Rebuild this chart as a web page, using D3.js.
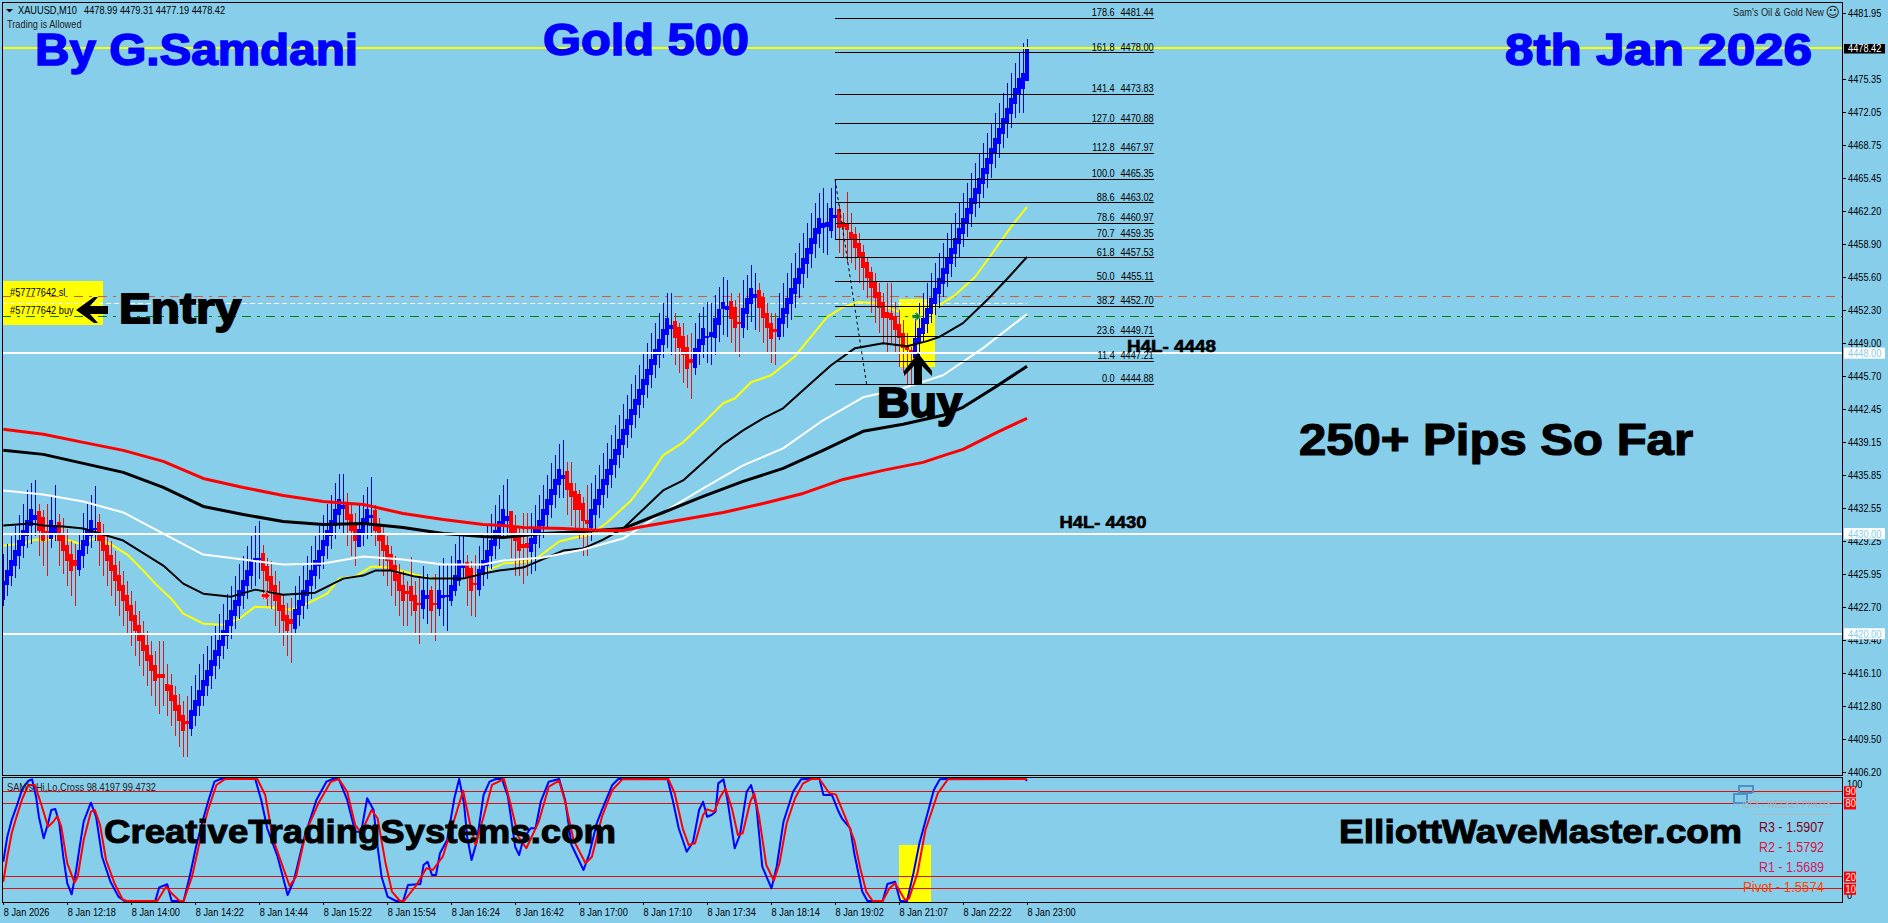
<!DOCTYPE html>
<html>
<head>
<meta charset="utf-8">
<title>XAUUSD M10</title>
<script src="https://cdnjs.cloudflare.com/ajax/libs/d3/7.9.0/d3.min.js"></script>
<style>
  html, body { margin: 0; padding: 0; background: #87ceeb; overflow: hidden; }
  svg { display: block; }
  .small { font-family: "Liberation Sans", Arial, sans-serif; font-size: 11.4px; fill: #000; }
  .big { font-family: "Liberation Sans", Arial, sans-serif; font-weight: bold; }
</style>
</head>
<body>
<div id="chart"></div>
<script>
"use strict";

var barOpen = [
  4423.4,4424.9,4425.8,4426.8,4427.8,4428.8,4429.8,4430.8,4431.4,4432.2,
  4431.6,4430.3,4429.5,4430.1,4431.2,4429.9,4428.9,4428.0,4427.4,4426.4,
  4427.8,4428.8,4429.8,4430.4,4431.2,4429.9,4428.9,4427.9,4426.9,4425.9,
  4424.9,4423.9,4422.9,4421.9,4420.9,4419.9,4418.9,4417.9,4416.9,4416.0,
  4416.0,4415.0,4414.9,4413.9,4412.9,4411.9,4411.3,4410.5,4411.8,4412.8,
  4413.8,4414.8,4415.8,4416.8,4417.8,4418.8,4419.8,4420.8,4421.8,4422.8,
  4423.8,4424.8,4425.8,4427.3,4427.4,4428.1,4426.8,4425.8,4424.9,4423.9,
  4422.9,4421.9,4421.5,4420.5,4421.9,4422.8,4423.8,4424.8,4425.8,4426.8,
  4427.8,4428.8,4429.8,4430.8,4431.8,4432.4,4433.1,4431.9,4430.9,4428.7,
  4429.9,4430.9,4431.5,4432.3,4430.8,4429.9,4428.9,4428.0,4426.9,4426.0,
  4424.9,4424.3,4424.8,4423.9,4423.1,4422.5,4423.5,4424.4,4423.1,4422.5,
  4423.6,4423.8,4423.3,4424.3,4425.3,4426.6,4427.2,4426.6,4425.1,4424.4,
  4425.9,4426.8,4427.8,4428.8,4429.8,4430.8,4431.3,4432.2,4430.7,4429.9,
  4429.0,4429.1,4428.2,4429.0,4429.9,4430.8,4431.8,4432.8,4433.8,4434.8,
  4435.4,4436.2,4435.0,4434.2,4433.9,4433.0,4431.4,4430.6,4431.8,4432.8,
  4433.8,4434.8,4435.8,4436.8,4437.8,4438.8,4439.8,4440.8,4441.8,4442.8,
  4443.8,4444.8,4445.8,4446.8,4447.8,4448.8,4449.8,4450.4,4451.2,4450.6,
  4449.7,4448.6,4447.4,4446.5,4447.9,4448.8,4449.5,4449.6,4449.5,4450.8,
  4452.4,4452.3,4453.2,4452.6,4451.1,4450.5,4451.9,4452.9,4453.5,4454.3,
  4453.6,4452.0,4451.0,4450.4,4449.6,4450.9,4451.9,4452.9,4453.9,4454.9,
  4455.9,4456.9,4457.9,4458.9,4459.9,4460.5,4460.6,4460.2,4461.5,4462.4,
  4461.1,4461.0,4460.1,4459.9,4459.0,4458.1,4457.1,4456.1,4455.1,4454.1,
  4453.1,4452.1,4452.0,4451.7,4450.9,4450.0,4448.6,4448.3,4447.5,4449.0,
  4449.9,4450.9,4451.9,4452.9,4453.9,4454.9,4455.9,4456.9,4457.9,4458.9,
  4459.9,4460.9,4461.9,4462.9,4463.9,4464.9,4465.9,4466.9,4467.9,4468.9,
  4469.9,4470.9,4471.9,4472.9,4473.9,4474.4,4475.2
];

var barClose = [
  4425.3,4426.4,4427.4,4428.4,4429.4,4430.4,4431.4,4432.4,4431.8,4430.3,
  4429.3,4430.1,4431.4,4430.8,4429.3,4428.3,4427.3,4426.3,4426.8,4428.4,
  4429.4,4430.4,4431.4,4430.6,4429.3,4428.3,4427.3,4426.3,4425.3,4424.3,
  4423.3,4422.3,4421.3,4420.3,4419.3,4418.3,4417.3,4416.3,4415.3,4415.6,
  4415.6,4414.3,4413.3,4412.3,4411.3,4410.3,4411.0,4412.4,4413.4,4414.4,
  4415.4,4416.4,4417.4,4418.4,4419.4,4420.4,4421.4,4422.4,4423.4,4424.4,
  4425.4,4426.4,4427.4,4427.6,4427.6,4426.3,4425.3,4424.3,4423.3,4422.3,
  4421.3,4420.3,4421.0,4422.5,4423.4,4424.4,4425.4,4426.4,4427.4,4428.4,
  4429.4,4430.4,4431.4,4432.4,4433.4,4432.8,4431.4,4430.3,4429.3,4430.5,
  4431.5,4432.4,4431.8,4430.3,4429.3,4428.3,4427.3,4426.3,4425.3,4424.3,
  4423.3,4424.0,4423.3,4422.3,4422.9,4424.4,4423.9,4422.3,4422.9,4424.4,
  4423.9,4423.9,4424.9,4425.9,4427.4,4427.0,4425.6,4424.3,4425.0,4426.5,
  4427.4,4428.4,4429.4,4430.4,4431.3,4432.4,4431.7,4430.1,4429.3,4428.3,
  4428.6,4428.6,4429.6,4430.5,4431.4,4432.4,4433.4,4434.4,4435.4,4436.4,
  4435.8,4434.3,4433.6,4432.3,4432.3,4431.3,4431.0,4432.4,4433.4,4434.4,
  4435.4,4436.4,4437.4,4438.4,4439.4,4440.4,4441.4,4442.4,4443.4,4444.4,
  4445.4,4446.4,4447.4,4448.4,4449.4,4450.4,4451.5,4450.8,4449.5,4448.5,
  4447.8,4446.4,4447.0,4448.5,4449.4,4450.5,4449.7,4450.1,4451.5,4452.4,
  4453.1,4452.7,4451.4,4450.5,4451.0,4452.5,4453.5,4454.5,4453.9,4452.5,
  4451.5,4450.5,4449.4,4450.1,4451.5,4452.5,4453.5,4454.5,4455.5,4456.5,
  4457.5,4458.5,4459.5,4460.5,4461.5,4461.0,4461.1,4462.5,4461.8,4460.5,
  4460.6,4460.3,4459.4,4458.5,4457.5,4456.5,4455.5,4454.5,4453.5,4452.5,
  4451.5,4451.5,4451.3,4450.3,4449.5,4448.5,4448.3,4448.0,4449.5,4450.5,
  4451.5,4452.5,4453.5,4454.5,4455.5,4456.5,4457.5,4458.5,4459.5,4460.5,
  4461.5,4462.5,4463.5,4464.5,4465.5,4466.5,4467.5,4468.5,4469.5,4470.5,
  4471.5,4472.5,4473.5,4474.5,4475.5,4476.0,4478.42
];

var barHigh = [
  4428.0,4429.0,4429.8,4430.8,4431.8,4432.9,4434.3,4435.0,4435.3,4432.9,
  4432.3,4432.9,4433.8,4434.8,4431.9,4431.5,4430.5,4429.3,4429.0,4430.0,
  4432.0,4432.9,4433.8,4434.7,4431.9,4431.0,4429.8,4429.3,4428.3,4427.3,
  4426.3,4425.3,4424.3,4423.3,4422.3,4421.3,4420.3,4419.3,4418.3,4419.3,
  4419.3,4417.0,4416.0,4414.8,4414.0,4413.3,4413.8,4414.8,4415.9,4417.0,
  4418.0,4418.8,4419.8,4420.8,4422.0,4423.0,4424.0,4424.8,4425.8,4427.0,
  4427.8,4428.8,4429.8,4430.8,4431.3,4428.9,4427.6,4427.3,4426.3,4425.3,
  4424.0,4423.1,4423.6,4424.8,4425.8,4426.8,4427.8,4428.8,4429.8,4430.8,
  4431.8,4432.9,4433.8,4435.0,4435.9,4435.9,4434.0,4433.0,4432.0,4432.8,
  4433.8,4434.6,4435.6,4432.8,4431.5,4430.8,4429.8,4428.8,4427.8,4427.0,
  4426.3,4425.3,4427.7,4425.3,4425.8,4426.8,4426.0,4424.8,4426.0,4426.8,
  4427.6,4427.0,4427.8,4429.0,4430.1,4430.1,4427.9,4427.3,4427.9,4428.8,
  4429.8,4430.8,4431.9,4432.8,4433.8,4434.8,4435.4,4432.0,4431.8,4430.6,
  4432.0,4432.0,4432.0,4432.8,4433.8,4434.8,4435.8,4437.0,4437.8,4438.9,
  4439.3,4437.1,4437.1,4435.0,4434.3,4433.6,4434.8,4435.0,4435.8,4436.8,
  4438.0,4439.0,4439.8,4440.8,4441.8,4442.9,4443.8,4444.9,4445.8,4446.8,
  4447.9,4449.0,4450.0,4451.0,4452.0,4453.0,4454.0,4454.0,4452.0,4451.0,
  4451.0,4449.8,4450.0,4451.0,4452.0,4452.6,4453.1,4453.0,4453.8,4454.6,
  4455.6,4455.3,4454.0,4453.3,4454.0,4455.3,4455.8,4456.8,4456.0,4455.0,
  4454.0,4453.0,4452.0,4452.0,4454.0,4455.0,4456.0,4457.0,4458.0,4459.0,
  4460.0,4461.0,4462.0,4463.0,4464.0,4464.5,4463.0,4464.5,4465.3,4462.8,
  4462.0,4464.1,4462.0,4460.6,4460.0,4458.8,4457.6,4456.6,4456.0,4455.0,
  4454.0,4455.0,4455.0,4453.1,4452.3,4451.3,4450.0,4448.6,4452.0,4453.0,
  4454.0,4455.0,4456.0,4457.0,4458.0,4459.0,4460.0,4461.0,4462.0,4463.0,
  4464.0,4465.0,4466.0,4467.0,4468.0,4469.0,4470.0,4471.0,4472.0,4473.0,
  4474.0,4475.0,4476.0,4477.0,4478.0,4479.0,4479.4
];

var barLow = [
  4422.8,4423.8,4424.8,4425.6,4426.5,4427.6,4428.6,4429.0,4429.8,4427.8,
  4426.8,4425.8,4428.6,4429.3,4426.8,4426.0,4424.8,4423.8,4422.8,4425.8,
  4426.6,4428.0,4428.6,4429.3,4426.8,4425.8,4424.8,4423.8,4422.8,4421.8,
  4420.8,4420.0,4418.8,4417.8,4416.8,4415.8,4414.8,4413.8,4412.8,4412.0,
  4412.8,4411.8,4410.8,4409.8,4408.7,4407.7,4407.7,4409.8,4410.8,4411.8,
  4412.8,4413.8,4414.5,4415.5,4416.5,4417.5,4418.5,4419.5,4420.5,4421.5,
  4422.5,4423.5,4424.5,4424.8,4425.5,4423.5,4422.8,4422.5,4420.8,4420.0,
  4418.8,4417.8,4417.1,4420.1,4420.8,4421.5,4422.5,4423.5,4424.5,4425.5,
  4426.5,4427.5,4428.5,4429.5,4430.5,4430.0,4428.8,4427.8,4426.8,4428.8,
  4428.8,4429.5,4429.8,4428.8,4426.8,4425.8,4424.8,4423.8,4422.8,4421.8,
  4420.8,4420.8,4421.8,4420.0,4419.0,4421.5,4421.0,4420.0,4419.3,4421.8,
  4420.8,4420.3,4422.8,4423.8,4424.8,4425.5,4422.8,4421.8,4421.7,4423.8,
  4424.8,4425.5,4426.5,4427.5,4428.5,4429.5,4429.6,4427.6,4425.8,4425.8,
  4425.0,4425.8,4426.0,4426.3,4428.6,4429.6,4430.5,4431.5,4432.5,4433.5,
  4433.5,4431.8,4430.8,4430.5,4429.5,4427.8,4427.8,4429.3,4430.3,4431.5,
  4432.5,4433.5,4434.5,4435.5,4436.5,4437.5,4438.5,4439.5,4440.5,4441.5,
  4442.5,4443.5,4444.5,4445.5,4446.5,4447.5,4448.5,4447.8,4446.8,4446.0,
  4445.0,4444.5,4443.4,4445.8,4446.8,4447.5,4447.0,4446.8,4447.8,4449.1,
  4449.8,4449.6,4449.0,4448.0,4447.6,4449.5,4450.3,4451.1,4450.3,4450.1,
  4449.0,4448.0,4447.0,4446.8,4449.3,4449.6,4450.5,4451.3,4452.5,4453.5,
  4454.5,4455.5,4456.5,4457.5,4458.5,4458.0,4457.8,4459.5,4459.3,4458.0,
  4457.6,4457.0,4457.0,4456.3,4455.0,4454.3,4453.5,4452.0,4451.0,4450.0,
  4449.0,4448.1,4449.0,4448.0,4446.6,4446.0,4444.8,4444.6,4447.1,4447.6,
  4449.0,4450.0,4451.0,4451.8,4452.5,4453.6,4454.6,4455.6,4456.6,4457.6,
  4458.6,4459.6,4460.6,4461.6,4462.5,4463.5,4464.5,4465.5,4466.5,4467.5,
  4468.5,4469.5,4470.5,4471.5,4472.0,4472.0,4475.2
];

// moving averages, as bar index + price
var maRedBars = [0,10,20,30,40,50,60,70,80,90,100,110,120,125,130,140,150,155,160,170,180,190,200,210,220,230,236,240,249,256];
var maRedVals = [4440.4,4439.9,4439.1,4438.3,4437.2,4435.5,4434.6,4433.8,4433.2,4432.9,4432.0,4431.4,4430.9,4430.8,4430.6,4430.5,4430.3,4430.3,4430.7,4431.4,4432.1,4433.0,4434.0,4435.4,4436.3,4437.1,4437.9,4438.4,4440.2,4441.5];

var maBlackBars = [0,10,20,30,40,50,60,70,80,90,100,110,120,125,135,145,155,165,175,185,195,205,215,225,235,240,248,256];
var maBlackVals = [4438.3,4437.9,4437.0,4436.1,4434.6,4432.7,4431.9,4431.2,4430.9,4431.0,4430.6,4430.0,4429.7,4429.6,4430.0,4430.2,4430.5,4432.1,4433.7,4435.2,4436.5,4438.3,4440.2,4440.9,4441.8,4442.6,4444.6,4446.7];

var maWhiteBars = [0,10,20,30,40,50,60,70,80,90,100,110,120,125,135,145,155,165,175,185,195,205,215,225,235,245,256];
var maWhiteVals = [4434.3,4433.9,4433.2,4432.1,4430.0,4427.9,4427.4,4426.9,4427.0,4427.7,4427.4,4426.9,4426.9,4427.3,4427.6,4428.4,4429.5,4432.1,4434.5,4436.8,4438.5,4441.3,4443.6,4444.5,4445.8,4448.5,4451.9];

var maThinBars = [0,7,10,15,20,30,40,45,50,57,63,70,78,85,90,93,97,103,107,115,120,124,130,140,145,150,155,165,170,175,180,185,190,195,200,207,213,220,226,231,234,240,246,251,256];
var maThinVals = [4430.8,4431.0,4430.8,4430.7,4430.5,4429.3,4426.8,4425.0,4424.0,4423.7,4424.4,4423.9,4424.1,4425.5,4425.8,4426.3,4426.3,4425.7,4425.5,4425.5,4426.0,4426.3,4426.6,4428.3,4428.5,4429.4,4430.5,4434.3,4435.3,4437.1,4438.9,4440.3,4441.5,4442.5,4444.3,4446.8,4448.5,4449.0,4448.7,4449.2,4449.6,4451.0,4453.3,4455.4,4457.6];

var maYellowBars = [0,5,8,10,14,19,23,27,31,35,38,42,45,50,55,59,63,68,72,76,81,84,88,92,97,103,107,115,124,125,131,134,139,143,147,151,157,161,165,170,175,180,183,187,192,198,206,210,214,218,225,228,233,238,243,247,252,256];
var maYellowVals = [4428.8,4429.0,4429.4,4429.3,4429.6,4429.0,4429.5,4428.9,4427.9,4426.3,4425.0,4423.5,4422.0,4421.0,4420.9,4421.5,4422.7,4422.6,4422.4,4423.0,4424.0,4425.5,4425.7,4426.7,4426.6,4425.9,4425.5,4425.5,4426.8,4427.0,4427.2,4427.7,4429.2,4429.6,4429.9,4431.1,4433.3,4435.4,4437.8,4439.1,4441.0,4443.0,4443.5,4445.1,4445.8,4447.7,4451.6,4452.6,4453.1,4453.0,4452.0,4451.9,4452.5,4453.8,4455.6,4457.8,4460.6,4462.6];

// lower window, SAM's Hi,Lo,Cross
var oscBlueBars = [0,1,2.1,3.3,4.8,6.3,7.2,8.2,8.9,10.1,11.2,12,13,14,15,16,17.1,18.1,19.1,20.1,21.9,23.2,24.7,26.8,28.8,30.3,38,39,41,42.1,45.1,46.6,48.2,49.7,51.2,52.8,54.3,63,64.5,66,68.6,71.1,72.7,75.2,78.3,80.8,82.4,83.9,86,88,89.5,91,92.6,93.6,94.6,96.1,98.2,100,101.2,104.3,105.1,106.1,107.2,108.2,109.2,111,112.8,114,115.2,116,117.1,118.4,120.1,121.6,123.2,124.7,126.2,128,129,130.1,131.9,133.1,134.4,136.4,139,140.5,142.1,145.1,146.6,148.4,149.7,152.3,153.8,166.1,167.4,168.9,170.9,172.5,174,175,176,177.1,178.1,178.8,180.1,181.1,182.9,184.2,185.9,187,188.3,189.8,192.1,193.4,195.1,197.5,199.5,201,204.1,205.1,207.2,208.7,209.7,211.8,212.8,214.8,216.1,219.9,221.1,223,224.3,226,227.6,229.1,232.7,234.2,235.7,255.6,256];
var oscBlueVals = [32.2,52.7,66.4,77.3,92.3,98.6,99.7,85.5,69.1,51.4,63.7,74.6,75.4,63.7,36.3,14.5,5.5,22.7,44.5,65,80.6,69.1,36.3,15.8,3.6,0,0,11.2,13.7,0,0,19.9,44.5,63.7,81.4,97.8,100,100,82.8,59.6,36.3,4.9,17.2,51.4,82.8,97.8,100,100,82.8,56.8,56.8,84.2,74.6,44.5,19.9,3.6,0,0,13.1,13.9,29.5,32.2,21.3,21.3,39.1,50,84.2,100,80.1,52.7,33.6,48.6,86.9,97.8,100,100,85.5,44.5,37.7,51.4,59.6,59.6,81.4,97.8,100,82.8,45.9,25.4,39.1,63.7,74.6,95.1,100,100,82.8,59.6,40.4,48.6,74.6,81.4,69.1,70.5,73.2,96.4,99.7,82.8,43.2,54.1,89.6,95.1,78.7,28.1,10.4,28.1,65,89.6,99.7,100,100,86.9,86.9,74.6,67.8,59.6,39.1,7.7,0,0,13.9,15.8,0,0,22.7,47.3,91,99.7,100,100,98.42];

var oscRedBars = [0,1,2.1,3.3,4.8,6.3,7.9,9.4,11.2,12.5,13.5,14.5,16,17.8,18.6,20.1,21.9,22.9,24.2,25.7,27.8,29.8,30.8,38.5,40.7,42.1,44.1,45.1,47.2,49.2,51.2,53.3,55.3,56.3,63.5,65.5,67.4,69.6,71.6,73.2,75.7,78.8,81.9,83.9,86,88,89.5,92.1,93.6,95.6,97.2,99.2,100.2,103.3,105.8,107.4,109.9,112.5,115,116.6,118.1,120.1,122.2,125.2,126.8,128.8,130.8,133.9,136.4,139,140.5,142.6,145.6,147.2,149.7,152.3,154.8,166.3,167.9,169.9,171.4,173,175,176,177.8,179.1,180.6,182.2,183.7,184.9,186.8,187.8,189,190.8,192.7,194.1,195.9,198,200,202.1,204.1,206.6,208.2,211.2,212.8,214.3,215.8,217.4,219.9,221.6,223,225.5,226.5,228.6,230.6,233.7,236.2,255.6,256];
var oscRedVals = [15.8,36.3,55.5,69.1,84.2,95.1,95.1,80.1,60.9,65,69.7,60.9,30.9,15,19.9,50,73.2,74.6,62.3,33.6,14.5,1.4,0,0,11.7,6.3,0,0,19.9,50,74.6,95.1,99.7,100,100,86.9,51.4,30.9,12.3,19.9,56.8,80.1,97.8,100,89.6,62.3,56,74.6,67.8,30.9,7.7,0,0,13.1,26.8,25.4,36.3,63.7,90.4,65,45.9,69.1,95.1,100,80.1,52.7,43.2,65,93.7,98.6,81.4,50,30.9,36.3,69.1,91,99.7,100,88.3,59.6,45.9,47.3,70.5,75.1,73.2,84.2,92.3,76,54.1,55.5,81.4,88.3,69.1,29.5,16.7,30.9,63.7,84.2,96.4,100,100,88.3,87.4,63.7,50,26.8,7.7,0,0,10.4,14.5,0.8,2.2,22.7,58.2,88.3,99.7,100,99.47];

// retracement levels
var fibPercent = ["178.6","161.8","141.4","127.0","112.8","100.0","88.6","78.6","70.7","61.8","50.0","38.2","23.6","11.4","0.0"];
var fibPrice = [4481.44,4478.00,4473.83,4470.88,4467.97,4465.35,4463.02,4460.97,4459.35,4457.53,4455.11,4452.70,4449.71,4447.21,4444.88];

var priceTicks = [4481.95,4475.35,4472.05,4468.75,4465.45,4462.20,4458.90,4455.60,4452.30,4449.00,4445.70,4442.45,4439.15,4435.85,4432.55,4429.25,4425.95,4422.70,4419.40,4416.10,4412.80,4409.50,4406.20];
var timeTickBars = [0,16,32,48,64,80,96,112,128,144,160,176,192,208,224,240,256];
var timeLabels = ["8 Jan 2026","8 Jan 12:18","8 Jan 14:00","8 Jan 14:22","8 Jan 14:44","8 Jan 15:22","8 Jan 15:54","8 Jan 16:24","8 Jan 16:42","8 Jan 17:00","8 Jan 17:10","8 Jan 17:34","8 Jan 18:14","8 Jan 19:02","8 Jan 21:07","8 Jan 22:22","8 Jan 23:00"];

var supportLevels = [4448, 4430, 4420];
var oscLevels = [90, 80, 20, 10];
var bidPrice = 4478.42;
var slPrice = 4453.61;
var entryPrice = 4451.67;
var openDashPrice = 4452.96;

var width = 1888, height = 923;
var left = 2, right = 1842;
var mainTop = 2, mainBottom = 775, subTop = 777, subBottom = 902;

var x = d3.scaleLinear().domain([0, 256]).range([3.3, 1027]);
var y = d3.scaleLinear().domain([4481.95, 4406.20]).range([13, 772]);
var yOsc = d3.scaleLinear().domain([100, 0]).range([779, 901]);

var svg = d3.select("#chart").append("svg")
  .attr("width", width)
  .attr("height", height);

svg.append("rect")
  .attr("width", width)
  .attr("height", height)
  .attr("fill", "#87ceeb");

var defs = svg.append("defs");
defs.append("clipPath").attr("id", "mainClip").append("rect")
  .attr("x", left).attr("y", mainTop).attr("width", right - left).attr("height", mainBottom - mainTop);
defs.append("clipPath").attr("id", "subClip").append("rect")
  .attr("x", left).attr("y", subTop).attr("width", right - left).attr("height", subBottom - subTop);

var main = svg.append("g").attr("clip-path", "url(#mainClip)");
var sub = svg.append("g").attr("clip-path", "url(#subClip)");

var drawMa = function(group, bars, vals, scale, color, strokeWidth) {
  var line = d3.line()
    .x(function(d) { return x(d); })
    .y(function(d, i) { return scale(vals[i]); });
  group.append("path")
    .attr("d", line(bars))
    .attr("fill", "none")
    .attr("stroke", color)
    .attr("stroke-width", strokeWidth)
    .attr("stroke-linejoin", "round");
};

var hLine = function(group, x1, x2, yPos, color, strokeWidth, dash) {
  group.append("line")
    .attr("x1", x1).attr("x2", x2)
    .attr("y1", yPos).attr("y2", yPos)
    .attr("stroke", color)
    .attr("stroke-width", strokeWidth)
    .attr("stroke-dasharray", dash || null)
    .attr("shape-rendering", "crispEdges");
};

// the platform font is narrower than anything installed, so squeeze the glyphs
var squeeze = function(node) {
  var w = node.getComputedTextLength();
  d3.select(node)
    .attr("textLength", w * 0.81)
    .attr("lengthAdjust", "spacingAndGlyphs");
};

var smallText = function(group, xPos, yPos, str, color, anchor) {
  var t = group.append("text")
    .attr("class", "small")
    .attr("x", xPos)
    .attr("y", yPos)
    .attr("text-anchor", anchor || "start")
    .style("fill", color || "#000")
    .text(str);
  squeeze(t.node());
  return t;
};

var bigText = function(xPos, yPos, str, size, color, span, sw) {
  svg.append("text")
    .attr("class", "big")
    .attr("x", xPos)
    .attr("y", yPos)
    .attr("font-size", size)
    .attr("fill", color)
    .attr("stroke", color)
    .attr("stroke-width", sw)
    .attr("textLength", span)
    .attr("lengthAdjust", "spacingAndGlyphs")
    .text(str);
};

// yellow boxes behind the bars
main.append("rect").attr("x", left + 1).attr("y", 281).attr("width", 100).attr("height", 44).attr("fill", "#ffff00");
main.append("rect").attr("x", 899).attr("y", 299).attr("width", 36).attr("height", 68).attr("fill", "#ffff00");

// order lines
hLine(main, left, right, y(slPrice), "#d9582f", 1, "9 6 3 6");
hLine(main, left, right, y(entryPrice), "#008000", 1, "9 6 3 6");
hLine(main, left, x(256), y(openDashPrice), "#ffffff", 1, "5 3");

drawMa(main, maYellowBars, maYellowVals, y, "#ffff00", 2);

// bars
var idx = d3.range(barOpen.length);
var barColor = function(i) { return barClose[i] >= barOpen[i] ? "#0000ff" : "#ff0000"; };

main.selectAll(".wick").data(idx).enter().append("line")
  .attr("class", "wick")
  .attr("x1", function(i) { return Math.round(x(i)) + 0.5; })
  .attr("x2", function(i) { return Math.round(x(i)) + 0.5; })
  .attr("y1", function(i) { return y(barHigh[i]); })
  .attr("y2", function(i) { return y(barLow[i]); })
  .attr("stroke", function(i) { return barClose[i] >= barOpen[i] ? "#0000e6" : "#d81818"; })
  .attr("stroke-width", 1)
  .attr("shape-rendering", "crispEdges");

main.selectAll(".body").data(idx).enter().append("rect")
  .attr("class", "body")
  .attr("x", function(i) { return Math.round(x(i)) - 2; })
  .attr("width", 4)
  .attr("y", function(i) { return y(Math.max(barOpen[i], barClose[i])); })
  .attr("height", function(i) { return Math.max(2, Math.abs(y(barOpen[i]) - y(barClose[i]))); })
  .attr("fill", barColor)
  .attr("shape-rendering", "crispEdges");

drawMa(main, maThinBars, maThinVals, y, "#000000", 2);
drawMa(main, maWhiteBars, maWhiteVals, y, "#ffffff", 2);
drawMa(main, maBlackBars, maBlackVals, y, "#000000", 3);
drawMa(main, maRedBars, maRedVals, y, "#ff0000", 3);

// support lines and current price line
supportLevels.forEach(function(level) {
  hLine(main, left, right, y(level), "#ffffff", 2);
});
hLine(main, left, right, y(bidPrice), "#ffff00", 2);

// retracement fan
var fibX1 = x(208), fibX2 = x(287.7);
fibPrice.forEach(function(p, i) {
  hLine(main, fibX1, fibX2, y(p), "#000000", 1);
  smallText(main, fibX2 - 39, y(p) - 2, fibPercent[i], "#000", "end");
  smallText(main, fibX2, y(p) - 2, p.toFixed(2), "#000", "end");
});
main.append("line")
  .attr("x1", fibX1).attr("x2", x(215.9))
  .attr("y1", y(4465.35)).attr("y2", y(4444.88))
  .attr("stroke", "#000")
  .attr("stroke-width", 1)
  .attr("stroke-dasharray", "3 3");

// trade markers
main.append("path")
  .attr("transform", "translate(" + x(228.5) + "," + y(entryPrice) + ")")
  .attr("d", "M-5,-2H-1V-5L4,0L-1,5V2H-5Z")
  .attr("fill", "#0a8a0a")
  .attr("stroke", "#ffffff")
  .attr("stroke-width", 0.6);
main.append("path")
  .attr("transform", "translate(" + x(65.5) + "," + y(4423.8) + ")")
  .attr("d", "M-4,-2H0V-5L5,0L0,5V2H-4Z")
  .attr("fill", "#ff0000")
  .attr("stroke", "#ffffff")
  .attr("stroke-width", 0.6);

// header text
main.append("path").attr("d", "M6,9H13L9.5,12.5Z").attr("fill", "#000");
smallText(main, 18, 14, "XAUUSD,M10", "#000");
smallText(main, 84, 14, "4478.99 4479.31 4477.19 4478.42", "#000");
smallText(main, 7, 28, "Trading is Allowed", "#222");
smallText(main, 10, 296, "#57777642 sl", "#000");
smallText(main, 10, 314, "#57777642 buy", "#000");
smallText(main, 1824, 16, "Sam's Oil & Gold New", "#222", "end");
main.append("text")
  .attr("x", 1825.5).attr("y", 17)
  .attr("font-family", "DejaVu Sans")
  .attr("font-size", 14)
  .attr("fill", "#222")
  .text("\u263A");

// big notes
bigText(35, 65, "By G.Samdani", 45, "#0000ff", 323, 1.5);
bigText(543, 55, "Gold 500", 44, "#0000ff", 206, 1.5);
bigText(1505, 65, "8th Jan 2026", 45, "#0000ff", 307, 1.5);
bigText(119, 323, "Entry", 42, "#000000", 122, 1.8);
bigText(877, 417, "Buy", 42, "#000000", 85, 1.8);
bigText(1127, 352, "H4L- 4448", 16.5, "#000000", 89, 0.6);
bigText(1059.5, 527.5, "H4L- 4430", 16.5, "#000000", 87, 0.6);
bigText(1299, 455, "250+ Pips So Far", 44, "#000000", 394, 1.2);
bigText(104, 843, "CreativeTradingSystems.com", 33, "#000000", 512, 1);
bigText(1339, 843, "ElliottWaveMaster.com", 33, "#000000", 403, 1);

// hand drawn arrows
svg.append("path")
  .attr("d", "M76,310L94,297L98,297L90,306H108V314H90L98,323H94Z")
  .attr("fill", "#000");
svg.append("path")
  .attr("d", "M918,353L932,371V376L922,366V385H914V366L904,376V371Z")
  .attr("fill", "#000");

// lower window
sub.append("rect").attr("x", 899).attr("y", 845).attr("width", 32).attr("height", 57).attr("fill", "#ffff00");
oscLevels.forEach(function(level) {
  hLine(sub, left, right, yOsc(level), "#e01010", 1);
});
drawMa(sub, oscBlueBars, oscBlueVals, yOsc, "#0000ff", 2);
drawMa(sub, oscRedBars, oscRedVals, yOsc, "#ff0000", 2);
smallText(sub, 7, 791, "SAM's Hi,Lo,Cross 98.4197 99.4732", "#222");

// weekly pivot panel
sub.append("rect").attr("x", 1739).attr("y", 786).attr("width", 14).attr("height", 7)
  .attr("fill", "none").attr("stroke", "#4f8fc4").attr("stroke-width", 2);
sub.append("rect").attr("x", 1734).attr("y", 794).attr("width", 13).attr("height", 9)
  .attr("fill", "none").attr("stroke", "#4f8fc4").attr("stroke-width", 2);
hLine(sub, 1752, 1832, 793, "#b0b8bc", 1);
hLine(sub, 1752, 1832, 814, "#b0b8bc", 1);
sub.append("text")
  .attr("x", 1742).attr("y", 808)
  .attr("font-family", "Liberation Sans")
  .attr("font-size", 11)
  .attr("fill", "#a8b4ba")
  .attr("textLength", 90)
  .attr("lengthAdjust", "spacingAndGlyphs")
  .text("IBFX - WEEKLY PIVOTS");

var pivotNames = ["R3 - 1.5907", "R2 - 1.5792", "R1 - 1.5689", "Pivot - 1.5574"];
var pivotColors = ["#800020", "#dc143c", "#d02060", "#ff4500"];
var pivotRows = [832, 852, 872, 892];
var pivotSpans = [65, 65, 65, 81];
pivotNames.forEach(function(name, i) {
  svg.append("text")
    .attr("x", 1824 - pivotSpans[i])
    .attr("y", pivotRows[i])
    .attr("font-family", "Liberation Sans")
    .attr("font-size", 14)
    .attr("fill", pivotColors[i])
    .attr("textLength", pivotSpans[i])
    .attr("lengthAdjust", "spacingAndGlyphs")
    .text(name);
});

// axes
var priceAxis = d3.axisRight(y)
  .tickValues(priceTicks)
  .tickSize(4)
  .tickPadding(2)
  .tickFormat(d3.format(".2f"));
var gPrice = svg.append("g")
  .attr("transform", "translate(" + right + ",0)")
  .call(priceAxis);
gPrice.select(".domain").remove();

var timeAxis = d3.axisBottom(x)
  .tickValues(timeTickBars)
  .tickSize(3)
  .tickFormat(function(d) { return timeLabels[timeTickBars.indexOf(d)]; });
var gTime = svg.append("g")
  .attr("transform", "translate(0," + subBottom + ")")
  .call(timeAxis);
gTime.select(".domain").remove();
gTime.selectAll("text").attr("text-anchor", "start").attr("y", 14).attr("dy", 0);

[gPrice, gTime].forEach(function(g) {
  g.attr("font-family", null).attr("font-size", null);
  g.selectAll("text").attr("class", "small").attr("fill", "#000").each(function() { squeeze(this); });
  g.selectAll("line").attr("stroke", "#000").attr("shape-rendering", "crispEdges");
});

// boxes on the price scale
svg.append("rect").attr("x", 1844).attr("y", 44).attr("width", 41).attr("height", 9.5).attr("fill", "#000");
smallText(svg, 1848, y(bidPrice) + 4, bidPrice.toFixed(2), "#fff");
supportLevels.forEach(function(level) {
  svg.append("rect").attr("x", 1844).attr("y", y(level) - 5.5).attr("width", 41).attr("height", 11).attr("fill", "#fff");
  smallText(svg, 1848, y(level) + 4, level.toFixed(2), "#87ceeb");
});
smallText(svg, 1847, 788, "100", "#000");
smallText(svg, 1847, 899, "0", "#000");
oscLevels.forEach(function(level) {
  svg.append("rect").attr("x", 1844).attr("y", yOsc(level) - 5).attr("width", 12).attr("height", 11).attr("fill", "#ff0000");
  smallText(svg, 1845.5, yOsc(level) + 4, String(level), "#fff");
});

// frame
var frame = svg.append("g").attr("fill", "none").attr("stroke", "#000").attr("shape-rendering", "crispEdges");
frame.append("rect").attr("x", left).attr("y", mainTop).attr("width", right - left).attr("height", mainBottom - mainTop).attr("stroke-width", 1);
frame.append("rect").attr("x", left).attr("y", subTop).attr("width", right - left).attr("height", subBottom - subTop).attr("stroke-width", 1);
</script>
</body>
</html>
